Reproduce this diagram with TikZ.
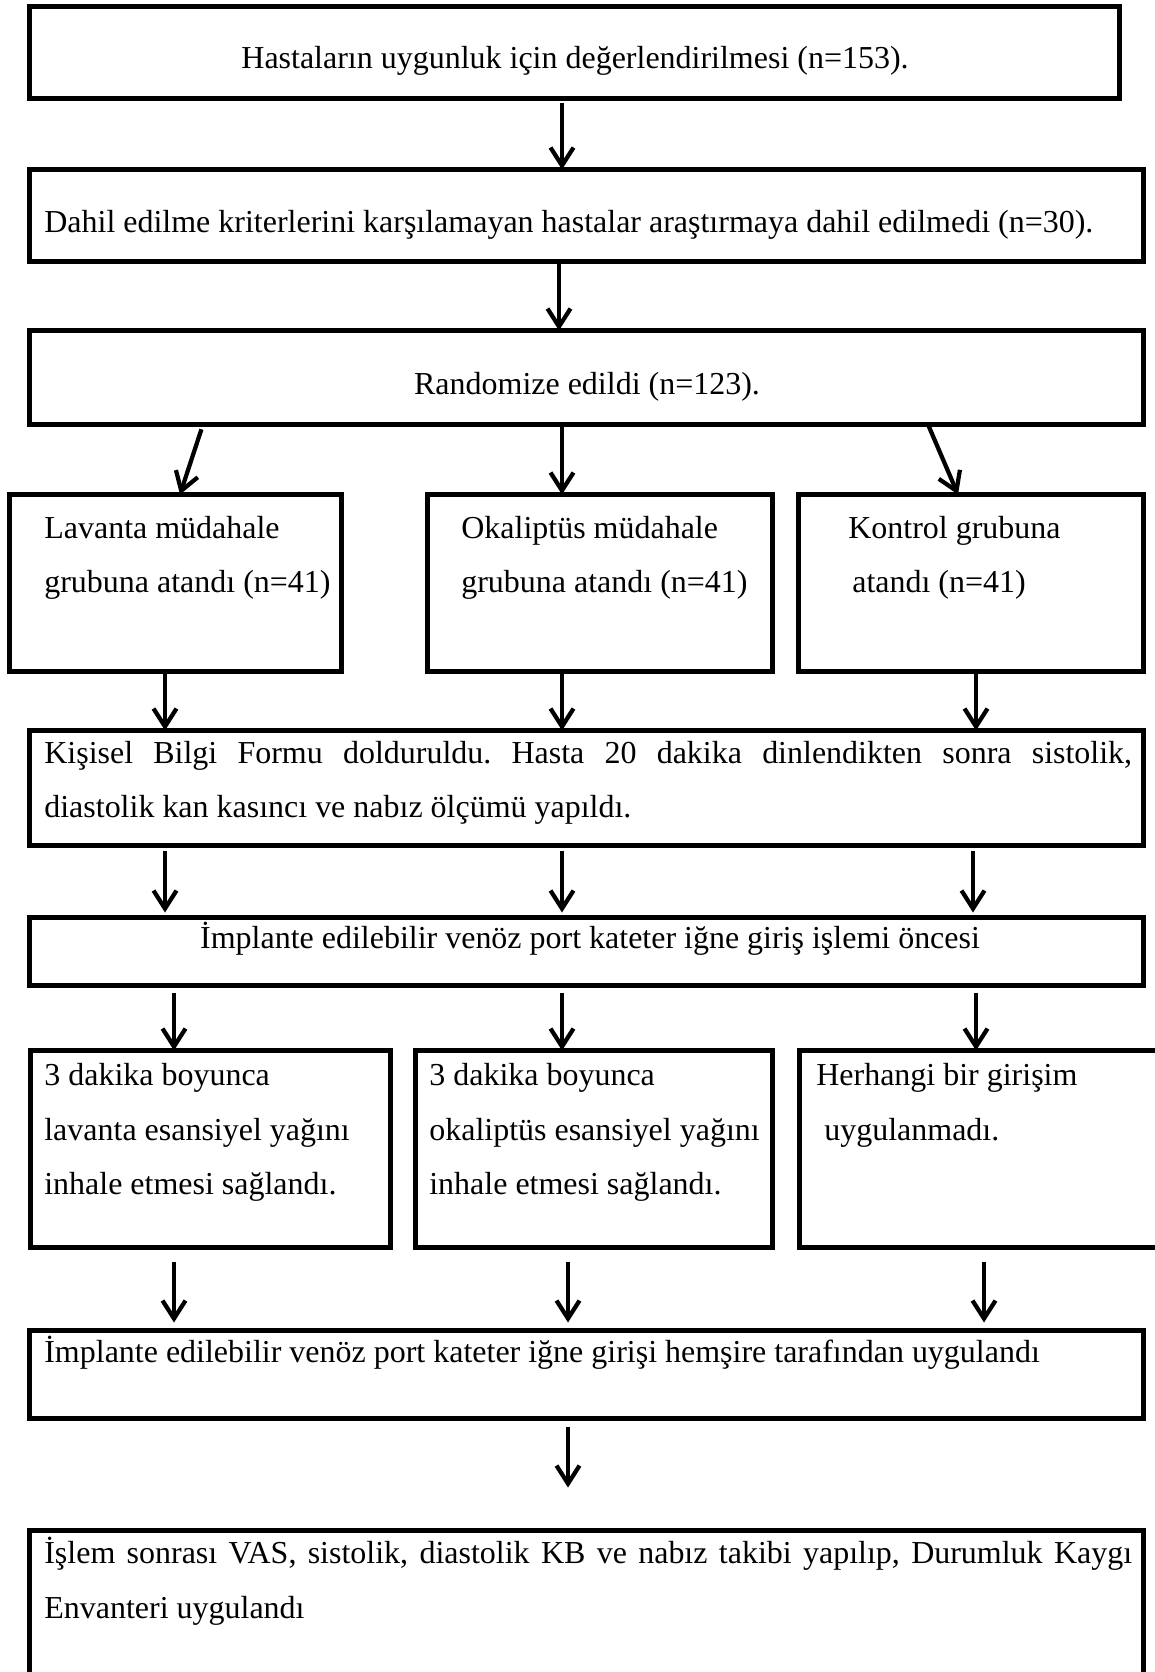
\documentclass[tikz,border=0pt]{standalone}
\usepackage{fontspec}
\setmainfont{Liberation Serif}
\usetikzlibrary{arrows.meta}

\tikzset{
  kutu/.style={draw, line width=0.1cm, inner sep=0pt, outer sep=0pt},
  yazi/.style={inner sep=0pt, font=\fontsize{18.2pt}{31.3pt}\selectfont\frenchspacing},
  ok/.style={line width=0.085cm, -{Straight Barb[length=0.36cm,width=0.46cm]}},
}

\begin{document}
\begin{tikzpicture}[x=0.02cm,y=-0.02cm]
\useasboundingbox (0,0) rectangle (1154,1672);

\node[kutu, minimum width=21.81cm, minimum height=1.85cm] (b1) at (574.75,52.75) {};
\node[kutu, minimum width=22.3cm, minimum height=1.85cm] (b2) at (586.5,215.75) {};
\node[kutu, minimum width=22.3cm, minimum height=1.88cm] (b3) at (586.5,377.5) {};

\node[kutu, minimum width=6.65cm, minimum height=3.54cm] (b4a) at (175.75,583) {};
\node[kutu, minimum width=6.9cm, minimum height=3.54cm] (b4b) at (600,583) {};
\node[kutu, minimum width=6.91cm, minimum height=3.54cm] (b4c) at (971.25,583) {};

\node[kutu, minimum width=22.3cm, minimum height=2.31cm] (b5) at (586.5,788.25) {};
\node[kutu, minimum width=22.3cm, minimum height=1.36cm] (b6) at (586.5,951.5) {};

\node[kutu, minimum width=7.21cm, minimum height=3.94cm] (b7a) at (210.75,1149) {};
\node[kutu, minimum width=7.14cm, minimum height=3.94cm] (b7b) at (594,1149) {};
\node[kutu, minimum width=7.41cm, minimum height=3.94cm] (b7c) at (984.75,1149) {};

\node[kutu, minimum width=22.3cm, minimum height=1.76cm] (b8) at (586.5,1374.5) {};
\node[kutu, minimum width=22.3cm, minimum height=3.39cm] (b9) at (586.5,1615.25) {};

\node[yazi, anchor=base] (t1) at (575,69) {Hastaların uygunluk için değerlendirilmesi (n=153).};
\node[yazi, anchor=base west] (t2) at (44,233) {Dahil edilme kriterlerini karşılamayan hastalar araştırmaya dahil edilmedi (n=30).};
\node[yazi, anchor=base] (t3) at (587,395) {Randomize edildi (n=123).};

\node[yazi, anchor=base west] (t4a) at (44,538) {\parbox[t]{6cm}{Lavanta müdahale\\grubuna atandı (n=41)}};
\node[yazi, anchor=base west] (t4b) at (461,538) {\parbox[t]{6cm}{Okaliptüs müdahale\\grubuna atandı (n=41)}};
\node[yazi, anchor=base west] (t4c) at (848,538) {\parbox[t]{6cm}{Kontrol grubuna\\\hspace*{0.08cm}atandı (n=41)}};

\node[yazi, anchor=base west] (t5) at (44,763) {\parbox[t]{21.76cm}{Kişisel Bilgi Formu dolduruldu. Hasta 20 dakika dinlendikten sonra sistolik,\linebreak diastolik kan kasıncı ve nabız ölçümü yapıldı.}};
\node[yazi, anchor=base] (t6) at (590,948) {İmplante edilebilir venöz port kateter iğne giriş işlemi öncesi};

\node[yazi, anchor=base west] (t7a) at (44,1085) {\parbox[t]{7cm}{3 dakika boyunca\\lavanta esansiyel yağını\\inhale etmesi sağlandı.}};
\node[yazi, anchor=base west] (t7b) at (429,1085) {\parbox[t]{7cm}{3 dakika boyunca\\okaliptüs esansiyel yağını\\inhale etmesi sağlandı.}};
\node[yazi, anchor=base west] (t7c) at (816,1085) {\parbox[t]{7cm}{Herhangi bir girişim\\\hspace*{0.16cm}uygulanmadı.}};

\node[yazi, anchor=base west] (t8) at (44,1362) {İmplante edilebilir venöz port kateter iğne girişi hemşire tarafından uygulandı};
\node[yazi, anchor=base west] (t9) at (44,1563) {\parbox[t]{21.76cm}{İşlem sonrası VAS, sistolik, diastolik KB ve nabız takibi yapılıp, Durumluk Kaygı\linebreak Envanteri uygulandı}};

\draw[ok, shorten <=0.08cm] (b1.south -| 562,0) -- (b2.north -| 562,0);
\draw[ok] (b2.south -| 559,0) -- (b3.north -| 559,0);

\draw[ok, shorten <=0.1cm] (b3.south -| 203,0) -- (b4a.north -| 180,0);
\draw[ok] (b3.south -| 562,0) -- (b4b.north -| 562,0);
\draw[ok] (b3.south -| 928,0) -- (b4c.north -| 958,0);

\draw[ok] (b4a.south -| 165,0) -- (b5.north -| 165,0);
\draw[ok] (b4b.south -| 562,0) -- (b5.north -| 562,0);
\draw[ok] (b4c.south -| 976,0) -- (b5.north -| 976,0);

\draw[ok, shorten <=0.1cm, shorten >=0.1cm] (b5.south -| 165,0) -- (b6.north -| 165,0);
\draw[ok, shorten <=0.1cm, shorten >=0.1cm] (b5.south -| 562,0) -- (b6.north -| 562,0);
\draw[ok, shorten <=0.1cm, shorten >=0.1cm] (b5.south -| 973,0) -- (b6.north -| 973,0);

\draw[ok, shorten <=0.14cm] (b6.south -| 174,0) -- (b7a.north -| 174,0);
\draw[ok, shorten <=0.14cm] (b6.south -| 562,0) -- (b7b.north -| 562,0);
\draw[ok, shorten <=0.14cm] (b6.south -| 976,0) -- (b7c.north -| 976,0);

\draw[ok, shorten <=0.3cm, shorten >=0.16cm] (b7a.south -| 174,0) -- (b8.north -| 174,0);
\draw[ok, shorten <=0.3cm, shorten >=0.16cm] (b7b.south -| 568,0) -- (b8.north -| 568,0);
\draw[ok, shorten <=0.3cm, shorten >=0.16cm] (b7c.south -| 984,0) -- (b8.north -| 984,0);

\draw[ok, shorten <=0.16cm, shorten >=0.86cm] (b8.south -| 568,0) -- (b9.north -| 568,0);
\end{tikzpicture}
\end{document}
